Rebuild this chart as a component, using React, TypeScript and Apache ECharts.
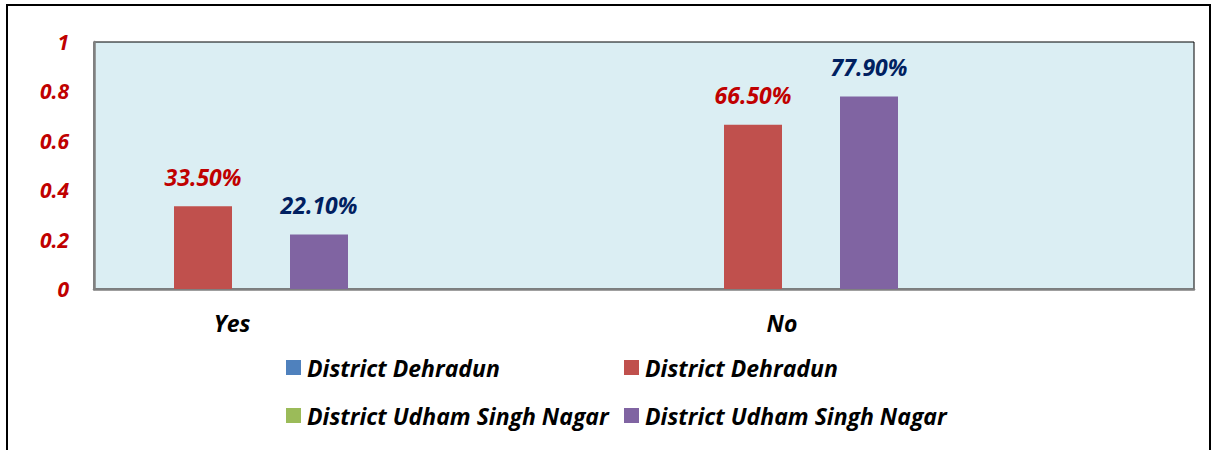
import React, { useEffect, useRef } from "react";
import * as echarts from "echarts";

const categories = ["Yes", "No"];
const dehradunBlue: (number | null)[] = [null, null];
const dehradunRed: number[] = [0.335, 0.665];
const udhamGreen: (number | null)[] = [null, null];
const udhamPurple: number[] = [0.221, 0.779];
const yTicks = { min: 0, max: 1, interval: 0.2 };

const legendNames = [
  { key: "dehradun-a", label: "District Dehradun", color: "#4F81BD" },
  { key: "dehradun-b", label: "District Dehradun", color: "#C0504D" },
  { key: "udham-a", label: "District Udham Singh Nagar", color: "#9BBB59" },
  { key: "udham-b", label: "District Udham Singh Nagar", color: "#8064A2" },
];

const FONT = "Open Sans";
const FS = 23;

export default function App() {
  const ref = useRef<HTMLDivElement>(null);
  useEffect(() => {
    if (!ref.current) return;
    const chart = echarts.init(ref.current, null, { renderer: "svg" });
    const labelFmt = (p: any) => (p.value * 100).toFixed(2) + "%";
    const labelMap: Record<string, string> = {};
    legendNames.forEach((l) => (labelMap[l.key] = l.label));
    const legendPos = [
      { left: 286, top: 356 },
      { left: 624, top: 356 },
      { left: 286, top: 404 },
      { left: 624, top: 404 },
    ];
    const base = {
      type: "bar" as const,
      barWidth: 58,
      barGap: "0%",
    };
    const txt = {
      fontFamily: FONT,
      fontSize: FS,
      fontWeight: "bold" as const,
      fontStyle: "italic" as const,
    };
    chart.setOption({
      animation: false,
      textStyle: { fontFamily: FONT },
      grid: {
        left: 94,
        right: 20,
        top: 42,
        bottom: 161,
        show: true,
        backgroundColor: "#DBEEF3",
        borderColor: "#000",
        borderWidth: 1,
      },
      graphic: [
        {
          type: "rect",
          shape: { x: 7, y: 5, width: 1203, height: 460 },
          style: { fill: "none", stroke: "#000", lineWidth: 2 },
          silent: true,
        },
      ],
      legend: legendNames.map((l, i) => ({
        data: [l.key],
        left: legendPos[i].left,
        top: legendPos[i].top,
        icon: "rect",
        itemWidth: 15,
        itemHeight: 15,
        padding: 0,
        formatter: (n: string) => labelMap[n],
        textStyle: { ...txt, color: "#000", padding: [0, 0, 0, 1] },
        selectedMode: false,
      })),
      xAxis: {
        type: "category",
        data: categories,
        axisLine: { lineStyle: { color: "#808080", width: 2.5 } },
        axisTick: { show: false },
        axisLabel: {
          margin: 22,
          ...txt,
          color: "#000",
          padding: [0, 274, 0, 0],
        },
      },
      yAxis: {
        type: "value",
        min: yTicks.min,
        max: yTicks.max,
        interval: yTicks.interval,
        splitLine: { show: false },
        axisLine: { show: true, lineStyle: { color: "#808080", width: 2.5 } },
        axisTick: { show: false },
        axisLabel: {
          margin: 25,
          ...txt,
          fontSize: 21,
          color: "#C00000",
        },
      },
      series: [
        { ...base, name: "dehradun-a", data: dehradunBlue, itemStyle: { color: "#4F81BD" } },
        {
          ...base,
          name: "dehradun-b",
          data: dehradunRed,
          itemStyle: { color: "#C0504D" },
          label: {
            show: true,
            position: "top",
            distance: 18,
            formatter: labelFmt,
            ...txt,
            color: "#C00000",
          },
        },
        { ...base, name: "udham-a", data: udhamGreen, itemStyle: { color: "#9BBB59" } },
        {
          ...base,
          name: "udham-b",
          data: udhamPurple,
          itemStyle: { color: "#8064A2" },
          label: {
            show: true,
            position: "top",
            distance: 18,
            formatter: labelFmt,
            ...txt,
            color: "#002060",
          },
        },
        {
          type: "bar",
          name: "spacer",
          data: [null, null],
          barWidth: 274,
          barGap: "0%",
          silent: true,
          itemStyle: { color: "transparent" },
        },
      ],
    });
    return () => chart.dispose();
  }, []);
  return (
    <div
      ref={ref}
      style={{ position: "absolute", left: 0, top: 0, width: 1214, height: 450, background: "#fff" }}
    />
  );
}
